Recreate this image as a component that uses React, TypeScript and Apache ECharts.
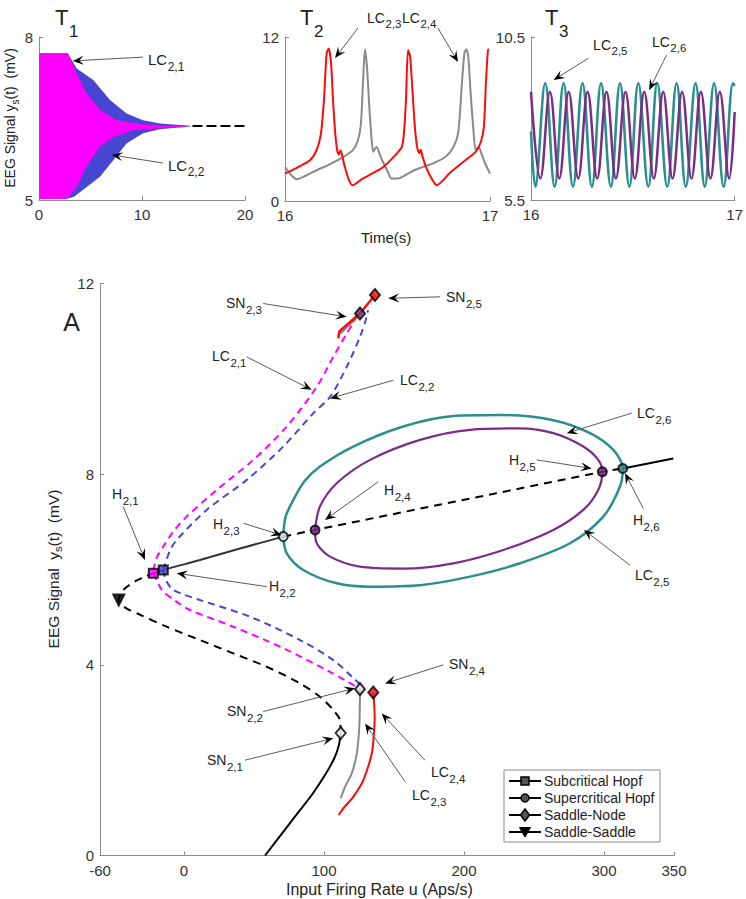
import React, { useEffect, useRef } from 'react';
import * as echarts from 'echarts';

const FONT = '"Liberation Sans", Arial, Helvetica, sans-serif';

// ---------------- T1 (time series, envelopes) ----------------
const t1BlueUpper = [[0, 7.7], [2.8, 7.7], [3.1, 7.6], [3.66, 7.42], [5.27, 7.21], [6.89, 6.84], [8.5, 6.59], [10.1, 6.47], [11.75, 6.41], [13.7, 6.38], [14.7, 6.365]];
const t1BlueLower = [[0, 5.02], [2.6, 5.02], [3.4, 5.06], [4.63, 5.24], [5.92, 5.43], [7.21, 5.73], [8.5, 6.04], [10.1, 6.23], [11.75, 6.3], [14.3, 6.35], [14.7, 6.355]];
const t1MagentaUpper = [[0, 7.7], [2.8, 7.7], [3.0, 7.62], [3.66, 7.33], [4.63, 6.96], [5.92, 6.66], [7.54, 6.47], [9.8, 6.4], [12, 6.37], [14.3, 6.365]];
const t1MagentaLower = [[0, 5.02], [2.6, 5.02], [3.0, 5.08], [3.66, 5.24], [4.6, 5.61], [5.9, 5.98], [7.2, 6.16], [9.3, 6.29], [12.5, 6.33], [14.3, 6.355]];
const t1Tail = [[14.9, 6.36], [20, 6.36]];

// ---------------- T2 ----------------
const t2Red = [[16.0, 2.0], [16.06, 2.45], [16.122, 2.98], [16.154, 3.72], [16.175, 4.9], [16.19, 7.4], [16.203, 10.8], [16.213, 11.15], [16.224, 10.2], [16.235, 7.2], [16.246, 4.8], [16.256, 3.6], [16.264, 3.4], [16.27, 3.7], [16.277, 3.45], [16.29, 2.6], [16.31, 1.6], [16.33, 1.15], [16.37, 1.55], [16.43, 2.05], [16.48, 2.49], [16.545, 3.47], [16.57, 3.96], [16.58, 4.94], [16.59, 7.38], [16.6, 11.05], [16.61, 10.6], [16.62, 8.5], [16.633, 5.5], [16.645, 3.9], [16.655, 3.5], [16.662, 3.75], [16.67, 3.3], [16.69, 2.4], [16.72, 1.52], [16.74, 1.15], [16.77, 1.5], [16.8, 2.0], [16.88, 2.98], [16.93, 3.6], [16.955, 4.3], [16.97, 5.4], [16.98, 8.6], [16.99, 11.05], [16.995, 11.1]];
const t2Gray = [[16.0, 2.49], [16.03, 1.9], [16.057, 1.59], [16.1, 1.85], [16.154, 2.25], [16.22, 2.7], [16.285, 3.23], [16.33, 3.7], [16.355, 4.4], [16.37, 5.6], [16.38, 8.5], [16.39, 11.1], [16.4, 9.8], [16.41, 7.2], [16.42, 5.0], [16.43, 3.6], [16.44, 3.85], [16.448, 3.96], [16.46, 3.5], [16.474, 2.98], [16.5, 2.2], [16.52, 1.64], [16.55, 1.64], [16.6, 2.0], [16.63, 2.25], [16.72, 2.74], [16.78, 3.2], [16.82, 3.9], [16.845, 5.0], [16.863, 8.6], [16.875, 10.8], [16.885, 11.1], [16.895, 10.4], [16.905, 8.0], [16.918, 5.4], [16.93, 3.72], [16.94, 3.9], [16.945, 3.96], [16.96, 3.4], [16.975, 2.8], [17.0, 2.0]];

// ---------------- T3 (peaks / troughs) ----------------
const t3Teal = [[16.0, 7.6], [16.021, 5.91], [16.07, 9.08], [16.116, 5.91], [16.16, 9.08], [16.206, 5.91], [16.253, 9.08], [16.299, 5.91], [16.344, 9.08], [16.392, 5.91], [16.437, 9.08], [16.483, 5.91], [16.527, 9.08], [16.576, 5.91], [16.62, 9.08], [16.669, 5.91], [16.715, 9.08], [16.76, 5.91], [16.808, 9.08], [16.853, 5.91], [16.899, 9.08], [16.946, 5.91], [16.992, 9.08], [17.0, 9.0]];
const t3Purple = [[16.0, 8.82], [16.046, 6.16], [16.093, 8.82], [16.139, 6.16], [16.185, 8.82], [16.232, 6.16], [16.278, 8.82], [16.325, 6.16], [16.371, 8.82], [16.417, 6.16], [16.464, 8.82], [16.51, 6.16], [16.556, 8.82], [16.603, 6.16], [16.649, 8.82], [16.695, 6.16], [16.742, 8.82], [16.788, 6.16], [16.834, 8.82], [16.881, 6.16], [16.927, 8.82], [16.973, 6.16], [17.0, 8.2]];

// ---------------- Main bifurcation diagram ----------------
const eqSolidLower = [[57.9, 0], [75.7, 0.68], [92, 1.3], [102, 1.75], [107.5, 2.05], [110.5, 2.3], [111.9, 2.57]];
const eqDashedLower = [[111.9, 2.57], [111.4, 2.84], [106.7, 3.05], [97.1, 3.33], [82.9, 3.61], [59, 3.96], [35.2, 4.24], [11.4, 4.52], [-12.4, 4.8], [-31.4, 5.05], [-42, 5.2], [-46.6, 5.36], [-43, 5.58], [-35, 5.75], [-27, 5.86], [-21.9, 5.92]];
const eqSolidMid = [[-21.9, 5.92], [-14.8, 5.99], [11.4, 6.2], [40, 6.44], [70.9, 6.69]];
const eqDashedMid = [[70.9, 6.69], [93.6, 6.83], [298.8, 8.05], [313.4, 8.12]];
const eqSolidRight = [[313.4, 8.12], [349.5, 8.33]];
const lc21Upper = [[-21.9, 5.98], [-19.5, 6.25], [-14.8, 6.48], [-7, 6.82], [1.9, 7.11], [23.4, 7.67], [49.5, 8.3], [73.4, 9.0], [94.8, 9.83], [106.6, 10.46], [116.2, 10.95], [122.1, 11.23]];
const lc21Lower = [[-21.9, 5.92], [-19, 5.75], [-15.9, 5.57], [-5.2, 5.32], [4.3, 5.15], [35.2, 4.8], [70.9, 4.35], [101.9, 3.89], [116, 3.66], [124.5, 3.52]];
const lc22Upper = [[-14.8, 5.99], [-10, 6.4], [-5.2, 6.62], [16.2, 7.25], [44.8, 7.88], [70.9, 8.58], [92.4, 9.28], [104.3, 9.62], [116.2, 10.25], [125.7, 10.88], [130.5, 11.3], [131.4, 11.44]];
const lc22Lower = [[-14.8, 5.99], [-13, 5.78], [-7.6, 5.57], [11.4, 5.36], [47.1, 5.01], [82.9, 4.52], [106.6, 4.1], [120, 3.75], [126.5, 3.57]];
const lc23Lower = [[125.7, 3.49], [125.2, 2.7], [123.4, 2.14], [119.8, 1.72], [115, 1.44], [112, 1.2]];
const lc23Upper = [[111.4, 10.95], [123.4, 11.3]];
const lc24Lower = [[135.2, 3.42], [136.2, 2.9], [135.5, 2.5], [134.1, 2.14], [128.1, 1.58], [120.9, 1.23], [113.8, 0.99], [110.5, 0.85]];
const lc24Upper = [[110.2, 10.85], [111, 11.0], [125.7, 11.37], [136.4, 11.76]];
const lc25Loop = [[70.9, 6.69], [72.5, 7.1], [78.1, 7.46], [86, 7.85], [97.1, 8.16], [120.9, 8.58], [156.6, 9.0], [192.4, 9.22], [228.1, 9.24], [263.8, 9.13], [290, 8.86], [306.6, 8.51], [313.4, 8.12], [311.4, 7.74], [299.5, 7.11], [275.7, 6.55], [240, 6.13], [204.3, 5.85], [168.6, 5.67], [132.9, 5.64], [109.1, 5.71], [85.2, 5.99], [73.4, 6.34], [70.9, 6.69]];
const lc26Loop = [[93.6, 6.83], [97.1, 7.32], [109.1, 7.81], [132.9, 8.3], [168.6, 8.72], [204.3, 8.93], [240, 8.96], [263.8, 8.86], [285.2, 8.58], [295.9, 8.3], [298.8, 8.05], [295.9, 7.67], [285.2, 7.25], [263.8, 6.83], [228.1, 6.41], [192.4, 6.13], [156.6, 6.02], [125.7, 6.06], [104.3, 6.27], [94.8, 6.55], [93.6, 6.83]];

const subHopfPts = [[-21.9, 5.92], [-14.8, 5.99]];
const supHopfPts = [[70.9, 6.69], [93.6, 6.83], [298.8, 8.05], [313.4, 8.12]];
const saddleNodePts = [[111.9, 2.57], [125.7, 3.49], [125.7, 11.37], [135.2, 3.42], [136.4, 11.76]];
const saddleSaddlePts = [[-46.6, 5.36]];

// tick values
const t1XTicks = [0, 10, 20];
const t1YTicks = [5, 8];
const t2XTicks = [16, 17];
const t2YTicks = [0, 12];
const t3XTicks = [16, 17];
const t3YTicks = [5.5, 10.5];
const mainXTicks = [-60, 0, 100, 200, 300, 350];
const mainYTicks = [0, 4, 8, 12];

// annotations: [base, sub, label anchor, arrow start, arrow tip]
const mainNotes: [string, string, number[], number[], number[]][] = [
  ['SN', '2,3', [30, 11.59], [56.6, 11.58], [116.2, 11.3]],
  ['LC', '2,1', [20, 10.48], [44.8, 10.46], [91.2, 9.77]],
  ['LC', '2,2', [154.3, 9.97], [149.5, 9.97], [104.3, 9.59]],
  ['SN', '2,5', [187.1, 11.72], [182.9, 11.72], [145.9, 11.69]],
  ['LC', '2,6', [323.6, 9.28], [319.8, 9.28], [273.4, 8.86]],
  ['H', '2,5', [232.1, 8.3], [251.9, 8.3], [291.2, 8.12]],
  ['H', '2,4', [142.9, 7.67], [138.8, 7.84], [100.7, 7.04]],
  ['H', '2,6', [320.7, 7.04], [328.1, 7.28], [315, 8.02]],
  ['LC', '2,5', [322.1, 5.88], [318.6, 6.09], [285.7, 6.83]],
  ['H', '2,3', [20.7, 6.95], [42.4, 6.97], [69.8, 6.72]],
  ['H', '2,1', [-51.4, 7.58], [-43.4, 7.32], [-27.9, 6.2]],
  ['H', '2,2', [60.7, 5.65], [59.1, 5.64], [-5.2, 5.92]],
  ['SN', '2,2', [30.7, 3.03], [56.6, 3.02], [122.1, 3.51]],
  ['SN', '2,1', [16.4, 2.0], [43.6, 2.0], [106.6, 2.46]],
  ['SN', '2,4', [189.3, 4.02], [185.2, 4.0], [143.6, 3.61]],
  ['LC', '2,4', [176.4, 1.75], [172.1, 2.0], [141.2, 2.98]],
  ['LC', '2,3', [162.9, 1.27], [157.9, 1.55], [129.3, 2.77]],
];
const t1Notes: [string, string, number[], number[], number[]][] = [
  ['LC', '2,1', [10.58, 7.58], [10.1, 7.63], [3.27, 7.56]],
  ['LC', '2,2', [12.52, 5.64], [12.04, 5.68], [7.06, 5.83]],
];
const t2Notes: [string, string, number[], number[], number[]][] = [
  ['LC', '2,3', [16.4, 13.39], [16.356, 12.66], [16.244, 10.46]],
  ['LC', '2,4', [16.571, 13.39], [16.746, 12.66], [16.844, 10.17]],
];
const t3Notes: [string, string, number[], number[], number[]][] = [
  ['LC', '2,5', [16.305, 10.25], [16.282, 9.85], [16.111, 9.18]],
  ['LC', '2,6', [16.594, 10.35], [16.666, 9.95], [16.58, 8.87]],
];

const legendNames = ['Subcritical Hopf', 'Supercritical Hopf', 'Saddle-Node', 'Saddle-Saddle'];

const C = {
  magenta: '#ff00ff', blue: '#4646d2', red: '#f80c0c', gray: '#8a8a8a',
  teal: '#2b8f8f', purple: '#7b2d86', black: '#000', axis: '#8c8c8c', label: '#333',
};

let measureCtx: CanvasRenderingContext2D | null = null;
function tw(text: string, size: number) {
  if (!measureCtx) measureCtx = document.createElement('canvas').getContext('2d');
  if (!measureCtx) return text.length * size * 0.55;
  measureCtx.font = `${size}px ${FONT}`;
  return measureCtx.measureText(text).width;
}

function xAx(gi: number, min: number, max: number, ticks: number[]) {
  return {
    type: 'value', gridIndex: gi, min, max,
    axisLine: { show: true, onZero: false, lineStyle: { color: C.axis, width: 1 } },
    axisTick: { show: true, inside: true, length: 4, customValues: ticks, lineStyle: { color: C.axis } },
    axisLabel: { customValues: ticks, color: C.label, fontSize: 15, fontFamily: FONT, margin: 7 },
    splitLine: { show: false },
  };
}
function yAx(gi: number, min: number, max: number, ticks: number[]) {
  return {
    type: 'value', gridIndex: gi, min, max,
    axisLine: { show: true, onZero: false, lineStyle: { color: C.axis, width: 1 } },
    axisTick: { show: true, inside: true, length: 4, customValues: ticks, lineStyle: { color: C.axis } },
    axisLabel: { customValues: ticks, color: C.label, fontSize: 15, fontFamily: FONT, margin: 6 },
    splitLine: { show: false },
  };
}

function line(gi: number, data: number[][], color: string, width: number, dashed: boolean | number[], smooth: number | boolean = false) {
  return {
    type: 'line', xAxisIndex: gi, yAxisIndex: gi, data, smooth,
    showSymbol: false, symbol: 'none', silent: true,
    lineStyle: { color, width, type: dashed ? (Array.isArray(dashed) ? dashed : [8, 5]) : 'solid', cap: 'butt' },
  };
}

function polygonSeries(gi: number, upper: number[][], lower: number[][], color: string) {
  const pts = upper.concat(lower.slice().reverse());
  return {
    type: 'custom', xAxisIndex: gi, yAxisIndex: gi, data: [[10, 6.5]], silent: true,
    renderItem: (_p: any, api: any) => ({
      type: 'polygon',
      shape: { points: pts.map((p) => api.coord(p)) },
      style: { fill: color },
    }),
  };
}

function markers(data: number[][], fills: string[], symbol: string, size: any, rotate = 0) {
  return {
    type: 'scatter', xAxisIndex: 3, yAxisIndex: 3, symbol, symbolSize: size, symbolRotate: rotate, silent: true, z: 5,
    data: data.map((v, i) => ({ value: v, itemStyle: { color: fills[i], borderColor: '#000', borderWidth: 2 } })),
  };
}

function buildOption() {
  return {
    animation: false,
    backgroundColor: '#fff',
    grid: [
      { left: 39, top: 37, width: 206, height: 163 },
      { left: 285, top: 37, width: 205, height: 164 },
      { left: 531, top: 37, width: 204, height: 163 },
      { left: 100, top: 283.5, width: 574, height: 572 },
    ],
    xAxis: [
      xAx(0, 0, 20, t1XTicks), xAx(1, 16, 17, t2XTicks), xAx(2, 16, 17, t3XTicks), xAx(3, -60, 350, mainXTicks),
    ],
    yAxis: [
      yAx(0, 5, 8, t1YTicks), yAx(1, 0, 12, t2YTicks), yAx(2, 5.5, 10.5, t3YTicks), yAx(3, 0, 12, mainYTicks),
    ],
    series: [
      polygonSeries(0, t1BlueUpper, t1BlueLower, C.blue),
      polygonSeries(0, t1MagentaUpper, t1MagentaLower, C.magenta),
      line(0, t1Tail, C.black, 2, [10, 4]),
      line(1, t2Gray, C.gray, 2, false, 0.25),
      line(1, t2Red, C.red, 2, false, 0.25),
      line(2, t3Teal, C.teal, 2.6, false, 0.4),
      line(2, t3Purple, C.purple, 2.5, false, 0.4),
      line(3, lc25Loop, C.teal, 2.5, false, 0.3),
      line(3, lc26Loop, C.purple, 2.2, false, 0.3),
      line(3, lc21Upper, C.magenta, 2, [7, 5], 0.3),
      line(3, lc21Lower, C.magenta, 2, [7, 5], 0.3),
      line(3, lc22Upper, C.blue, 2, [7, 5], 0.3),
      line(3, lc22Lower, C.blue, 2, [7, 5], 0.3),
      line(3, eqSolidLower, C.black, 2, false, 0.3),
      line(3, eqDashedLower, C.black, 2, [8, 6], 0.3),
      line(3, eqSolidMid, '#333', 2, false, 0.3),
      line(3, eqDashedMid, C.black, 2, [8, 6], false),
      line(3, eqSolidRight, C.black, 2, false, false),
      line(3, lc23Lower, C.gray, 2, false, 0.3),
      line(3, lc23Upper, C.gray, 3, false, false),
      line(3, lc24Lower, C.red, 2, false, 0.3),
      line(3, lc24Upper, C.red, 2.5, false, false),
      markers(subHopfPts, [C.magenta, C.blue], 'rect', 9),
      markers(supHopfPts, ['#e8f4f4', C.purple, C.purple, C.teal], 'circle', 9),
      markers(saddleNodePts, ['#fff', '#ddd', C.purple, C.red, C.red], 'diamond', [10, 12]),
      markers(saddleSaddlePts, ['#000'], 'triangle', 11, 180),
    ],
  };
}

function txt(x: number, y: number, text: string, size: number, align = 'left', color = '#222') {
  return { type: 'text', x, y, z: 100, silent: true, style: { text, font: `${size}px ${FONT}`, fill: color, align, verticalAlign: 'middle' } };
}
function subText(x: number, y: number, base: string, sub: string, bs: number, ss: number, dy: number) {
  const w = tw(base, bs);
  return [txt(x, y, base, bs), txt(x + w + 0.5, y + dy, sub, ss)];
}
function arrow(p1: number[], p2: number[], headLen = 11, headW = 4.5) {
  const dx = p2[0] - p1[0], dy = p2[1] - p1[1];
  const L = Math.hypot(dx, dy) || 1;
  const ux = dx / L, uy = dy / L, px = -uy, py = ux;
  const back = [p2[0] - ux * headLen, p2[1] - uy * headLen];
  const notch = [p2[0] - ux * headLen * 0.6, p2[1] - uy * headLen * 0.6];
  return [
    { type: 'line', z: 99, silent: true, shape: { x1: p1[0], y1: p1[1], x2: notch[0], y2: notch[1] }, style: { stroke: '#5a5a5a', lineWidth: 1 } },
    { type: 'polygon', z: 100, silent: true, shape: { points: [p2, [back[0] + px * headW, back[1] + py * headW], notch, [back[0] - px * headW, back[1] - py * headW]] }, style: { fill: '#000' } },
  ];
}
function rotatedLabel(cx: number, cy: number, parts: [string, boolean][], size: number, subSize: number, subDy: number) {
  const widths = parts.map(([t, s]) => tw(t, s ? subSize : size));
  const total = widths.reduce((a, b) => a + b, 0);
  let x = -total / 2;
  const children: any[] = [];
  parts.forEach(([t, s], i) => {
    children.push(txt(x, s ? subDy : 0, t, s ? subSize : size));
    x += widths[i];
  });
  return { type: 'group', x: cx, y: cy, rotation: Math.PI / 2, z: 100, children };
}

function buildGraphics(chart: any) {
  const els: any[] = [];
  const notes = (gi: number, list: [string, string, number[], number[], number[]][], bs: number, ss: number, dy: number) => {
    list.forEach(([b, s, at, from, to]) => {
      const a = chart.convertToPixel({ gridIndex: gi }, at);
      const f = chart.convertToPixel({ gridIndex: gi }, from);
      const t = chart.convertToPixel({ gridIndex: gi }, to);
      els.push(...arrow(f, t));
      els.push(...subText(a[0], a[1], b, s, bs, ss, dy));
    });
  };
  notes(3, mainNotes, 14, 11.5, 7);
  notes(0, t1Notes, 15, 12, 7);
  notes(1, t2Notes, 14, 11.5, 6);
  notes(2, t3Notes, 14, 11.5, 6);

  // panel titles
  els.push(...subText(55, 17, 'T', '1', 22, 17, 14));
  els.push(...subText(300, 17, 'T', '2', 22, 17, 14));
  els.push(...subText(545, 17, 'T', '3', 22, 17, 14));
  els.push(txt(71.5, 322, 'A', 25, 'center'));
  els.push(txt(361, 237, 'Time(s)', 15));
  els.push(txt(286, 889, 'Input Firing Rate u (Aps/s)', 16));
  els.push(rotatedLabel(53, 569, [['EEG Signal  y', false], ['s', true], ['(t)  (mV)', false]], 15.5, 11, 5));
  els.push(rotatedLabel(10, 118, [['EEG Signal y', false], ['s', true], ['(t)  (mV)', false]], 14, 10, 5));

  // legend
  const lx = 504, ly = 770, lw = 156, lh = 72;
  els.push({ type: 'rect', z: 98, silent: true, shape: { x: lx, y: ly, width: lw, height: lh }, style: { fill: '#fff', stroke: '#8c8c8c', lineWidth: 1 } });
  const rowY = [781, 798, 815, 832];
  legendNames.forEach((name, i) => {
    const y = rowY[i];
    els.push({ type: 'line', z: 99, silent: true, shape: { x1: 509, y1: y, x2: 541, y2: y }, style: { stroke: '#000', lineWidth: 2 } });
    const mx = 525;
    const st = { fill: '#555', stroke: '#000', lineWidth: 1.5 };
    if (i === 0) els.push({ type: 'rect', z: 100, silent: true, shape: { x: mx - 4, y: y - 4, width: 8, height: 8 }, style: st });
    if (i === 1) els.push({ type: 'circle', z: 100, silent: true, shape: { cx: mx, cy: y, r: 4 }, style: st });
    if (i === 2) els.push({ type: 'polygon', z: 100, silent: true, shape: { points: [[mx, y - 6], [mx + 4.5, y], [mx, y + 6], [mx - 4.5, y]] }, style: st });
    if (i === 3) els.push({ type: 'polygon', z: 100, silent: true, shape: { points: [[mx - 5.5, y - 4.5], [mx + 5.5, y - 4.5], [mx, y + 5]] }, style: { fill: '#000', stroke: '#000', lineWidth: 1 } });
    els.push(txt(544, y, name, 14));
  });
  return els;
}

export default function App() {
  const ref = useRef<HTMLDivElement>(null);
  useEffect(() => {
    if (!ref.current) return;
    const chart = echarts.init(ref.current, null, { renderer: 'svg' });
    chart.setOption(buildOption() as any);
    chart.setOption({ graphic: { elements: buildGraphics(chart) } } as any);
    return () => chart.dispose();
  }, []);
  return <div ref={ref} style={{ position: 'absolute', left: 0, top: 0, width: 746, height: 899, background: '#fff' }} />;
}
